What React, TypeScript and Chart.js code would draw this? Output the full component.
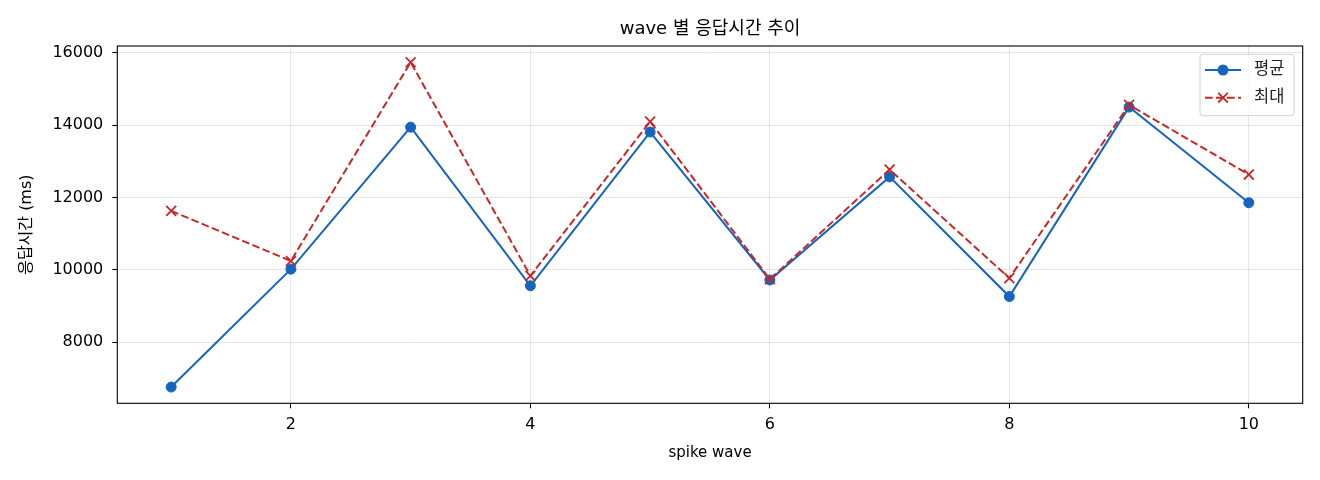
import React, { useEffect, useRef } from "react";
import { Chart, registerables } from "chart.js";

Chart.register(...registerables);

const waves = [1, 2, 3, 4, 5, 6, 7, 8, 9, 10];
const meanMs = [6760, 10020, 13945, 9560, 13810, 9720, 12570, 9262, 14500, 11855];
const maxMs = [11630, 10245, 15740, 9835, 14100, 9740, 12772, 9770, 14560, 12635];
const xTicks = [2, 4, 6, 8, 10];
const yTicks = [8000, 10000, 12000, 14000, 16000];
const seriesLabels = ["평균", "최대"];
const titleText = "wave 별 응답시간 추이";
const xTitle = "spike wave";
const yTitle = "응답시간 (ms)";

const BLUE = "#1565C0";
const RED = "#C62828";
const FONT = '"DejaVu Sans", "Noto Sans CJK KR", sans-serif';

function pad(arr: number[], frac: number) {
  const lo = Math.min(...arr);
  const hi = Math.max(...arr);
  const m = (hi - lo) * frac;
  return [lo - m, hi + m];
}

export default function App() {
  const ref = useRef<HTMLCanvasElement | null>(null);

  useEffect(() => {
    document.body.style.margin = "0";
    const canvas = ref.current;
    if (!canvas) return;
    const [xMin, xMax] = pad(waves, 0.05);
    const [yMin, yMax] = pad([...meanMs, ...maxMs], 0.05);

    const framePlugin = {
      id: "frame",
      afterDatasetsDraw(chart: any) {
        const { ctx, chartArea: a } = chart;
        ctx.save();
        ctx.strokeStyle = "#000";
        ctx.lineWidth = 1.1;
        ctx.strokeRect(a.left, a.top, a.right - a.left, a.bottom - a.top);
        ctx.restore();
      },
    };

    const legendPlugin = {
      id: "innerLegend",
      afterDraw(chart: any) {
        const { ctx, chartArea: a } = chart;
        const bx = a.right - 102.7;
        const by = a.top + 8.3;
        const bw = 94;
        const bh = 61.4;
        ctx.save();
        ctx.beginPath();
        ctx.roundRect(bx, by, bw, bh, 3);
        ctx.fillStyle = "rgba(255,255,255,0.8)";
        ctx.fill();
        ctx.strokeStyle = "#d0d0d0";
        ctx.lineWidth = 1;
        ctx.stroke();
        const rows = [by + 15.7, by + 43.4];
        const x0 = bx + 5;
        const x1 = bx + 41;
        const xm = (x0 + x1) / 2;
        ctx.strokeStyle = BLUE;
        ctx.lineWidth = 2;
        ctx.setLineDash([]);
        ctx.beginPath();
        ctx.moveTo(x0, rows[0]);
        ctx.lineTo(x1, rows[0]);
        ctx.stroke();
        ctx.fillStyle = BLUE;
        ctx.beginPath();
        ctx.arc(xm, rows[0], 5.5, 0, Math.PI * 2);
        ctx.fill();
        ctx.strokeStyle = RED;
        ctx.setLineDash([7.7, 3.3]);
        ctx.beginPath();
        ctx.moveTo(x0, rows[1]);
        ctx.lineTo(x1, rows[1]);
        ctx.stroke();
        ctx.setLineDash([]);
        ctx.lineWidth = 1.8;
        const r = 4.8;
        ctx.beginPath();
        ctx.moveTo(xm - r, rows[1] - r);
        ctx.lineTo(xm + r, rows[1] + r);
        ctx.moveTo(xm - r, rows[1] + r);
        ctx.lineTo(xm + r, rows[1] - r);
        ctx.stroke();
        ctx.fillStyle = "#222";
        ctx.font = `16.5px ${FONT}`;
        ctx.textAlign = "left";
        ctx.textBaseline = "middle";
        ctx.fillText(seriesLabels[0], bx + 54, rows[0]);
        ctx.fillText(seriesLabels[1], bx + 54, rows[1]);
        ctx.restore();
      },
    };

    const chart = new Chart(canvas, {
      type: "line",
      data: {
        datasets: [
          {
            label: seriesLabels[0],
            data: waves.map((w, i) => ({ x: w, y: meanMs[i] })),
            borderColor: BLUE,
            backgroundColor: BLUE,
            borderWidth: 2,
            pointStyle: "circle",
            pointRadius: 5,
            pointBorderWidth: 1,
            pointBackgroundColor: BLUE,
            pointBorderColor: BLUE,
            tension: 0,
            order: 1,
          },
          {
            label: seriesLabels[1],
            data: waves.map((w, i) => ({ x: w, y: maxMs[i] })),
            borderColor: RED,
            backgroundColor: RED,
            borderWidth: 2,
            borderDash: [7.7, 3.3],
            pointStyle: "crossRot",
            pointRadius: 7,
            pointBorderWidth: 1.8,
            pointBorderColor: RED,
            tension: 0,
            order: 0,
          },
        ],
      },
      options: {
        animation: false,
        responsive: true,
        maintainAspectRatio: false,
        layout: { padding: { left: 0, right: 17.3, top: 0, bottom: 0 } },
        plugins: {
          legend: { display: false },
          tooltip: { enabled: false },
          title: {
            display: true,
            fullSize: false,
            text: titleText,
            color: "#000",
            font: { family: FONT, size: 18, weight: "normal" },
            padding: { top: 19, bottom: 5.4 },
          },
        },
        scales: {
          x: {
            type: "linear",
            min: xMin,
            max: xMax,
            afterBuildTicks: (s: any) => {
              s.ticks = xTicks.map((v) => ({ value: v }));
            },
            afterFit: (s: any) => {
              s.height = 76.7;
            },
            ticks: {
              color: "#000",
              font: { family: FONT, size: 16 },
              padding: 7,
              maxRotation: 0,
              callback: (v: any) => String(v),
            },
            grid: {
              color: "rgba(0,0,0,0.1)",
              lineWidth: 1,
              drawTicks: true,
              tickLength: 5,
              tickColor: "#000",
              tickWidth: 1.1,
            },
            border: { display: false },
            title: {
              display: true,
              text: xTitle,
              color: "#000",
              font: { family: FONT, size: 15 },
              padding: { top: 0, bottom: 18 },
            },
          },
          y: {
            type: "linear",
            min: yMin,
            max: yMax,
            afterBuildTicks: (s: any) => {
              s.ticks = yTicks.map((v) => ({ value: v }));
            },
            afterFit: (s: any) => {
              s.width = 117.3;
            },
            ticks: {
              color: "#000",
              font: { family: FONT, size: 16 },
              padding: 9,
              callback: (v: any) => String(v),
            },
            grid: {
              color: "rgba(0,0,0,0.1)",
              lineWidth: 1,
              drawTicks: true,
              tickLength: 5,
              tickColor: "#000",
              tickWidth: 1.1,
            },
            border: { display: false },
            title: {
              display: true,
              text: yTitle,
              color: "#000",
              font: { family: FONT, size: 16 },
              padding: { top: 17, bottom: 0 },
            },
          },
        },
      },
      plugins: [framePlugin, legendPlugin],
    } as any);

    return () => chart.destroy();
  }, []);

  return (
    <div style={{ position: "relative", width: 1320, height: 480 }}>
      <canvas ref={ref} />
    </div>
  );
}
